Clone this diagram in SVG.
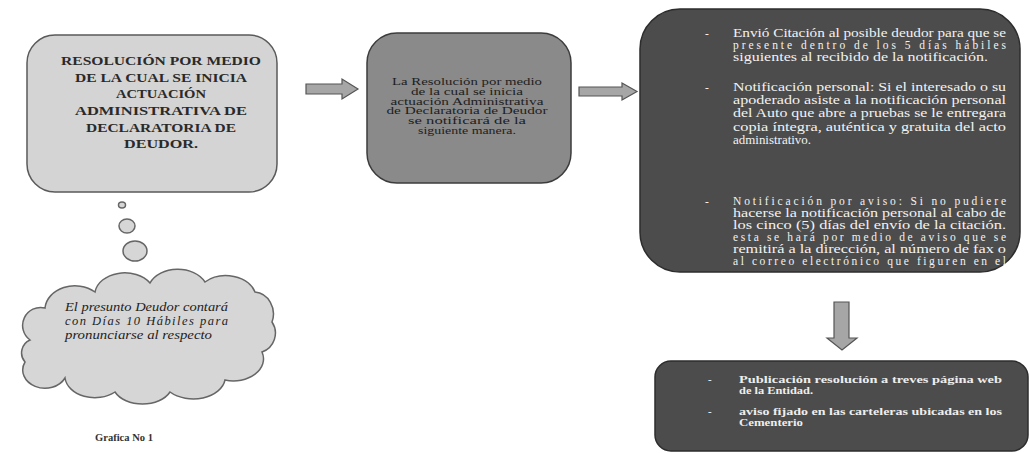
<svg xmlns="http://www.w3.org/2000/svg" width="1030" height="453" viewBox="0 0 1030 453">
<defs>
<style>
.b1{fill:#d4d4d4;stroke:#5a5a5a;stroke-width:1.5}
.b2{fill:#8a8a8a;stroke:#3c3c3c;stroke-width:1.5}
.b3{fill:#4c4c4c;stroke:#2c2c2c;stroke-width:1.5}
.arr{fill:#a6a6a6;stroke:#555;stroke-width:1.2}
.t1{font-family:"Liberation Serif",serif;font-weight:bold;font-size:13px;fill:#2a2a2a;text-anchor:middle}
.t2{font-family:"Liberation Serif",serif;font-size:10.5px;fill:#1e1e1e;text-anchor:middle}
.t3{font-family:"Liberation Serif",serif;font-size:11.5px;fill:#f2f2f2}
.t4{font-family:"Liberation Serif",serif;font-weight:bold;font-size:11px;fill:#eeeeee}
.tc{font-family:"Liberation Serif",serif;font-style:italic;font-size:12.5px;fill:#222}
.cap{font-family:"Liberation Serif",serif;font-weight:bold;font-size:10px;fill:#333}
.cl{fill:#d6d6d6;stroke:#666;stroke-width:1.5}
</style>
</defs>
<rect width="1030" height="453" fill="#ffffff"/>

<g id="connectors">
<path class="arr" d="M306,84 L342,84 L342,79 L358,89 L342,99 L342,94 L306,94 Z"/>
<path class="arr" d="M579,87 L622,87 L622,83 L637,91.5 L622,100 L622,96 L579,96 Z"/>
<path class="arr" d="M834,302 L849,302 L849,338 L857,338 L842,350 L827,338 L834,338 Z"/>
</g>

<g id="node-resolucion">
<rect class="b1" x="27" y="35" width="250" height="157" rx="28" ry="28"/>
<text class="t1" x="161" y="65" textLength="200" lengthAdjust="spacingAndGlyphs">RESOLUCIÓN POR MEDIO</text>
<text class="t1" x="161" y="82" textLength="172" lengthAdjust="spacingAndGlyphs">DE LA CUAL SE INICIA</text>
<text class="t1" x="161" y="98" textLength="90" lengthAdjust="spacingAndGlyphs">ACTUACIÓN</text>
<text class="t1" x="161" y="115" textLength="172" lengthAdjust="spacingAndGlyphs">ADMINISTRATIVA DE</text>
<text class="t1" x="161" y="132" textLength="150" lengthAdjust="spacingAndGlyphs">DECLARATORIA DE</text>
<text class="t1" x="161" y="148" textLength="74" lengthAdjust="spacingAndGlyphs">DEUDOR.</text>
</g>

<g id="node-notificacion">
<rect class="b2" x="367" y="33" width="204" height="150" rx="30" ry="30"/>
<text class="t2" x="467" y="85" textLength="150" lengthAdjust="spacingAndGlyphs">La Resolución por medio</text>
<text class="t2" x="467" y="95" textLength="112" lengthAdjust="spacingAndGlyphs">de la cual se inicia</text>
<text class="t2" x="467" y="104.5" textLength="153" lengthAdjust="spacingAndGlyphs">actuación Administrativa</text>
<text class="t2" x="467" y="114" textLength="161" lengthAdjust="spacingAndGlyphs">de Declaratoria de Deudor</text>
<text class="t2" x="467" y="124" textLength="118" lengthAdjust="spacingAndGlyphs">se notificará de la</text>
<text class="t2" x="467" y="133.5" textLength="98" lengthAdjust="spacingAndGlyphs">siguiente manera.</text>
</g>

<g id="node-formas">
<rect class="b3" x="640" y="9" width="380" height="263" rx="40" ry="40"/>
<text class="t3" x="705" y="37">-</text>
<text class="t3" x="733" y="37" textLength="273" lengthAdjust="spacingAndGlyphs">Envió Citación al posible deudor para que se</text>
<text class="t3" x="733" y="49" textLength="273" lengthAdjust="spacing">presente dentro de los 5 días hábiles</text>
<text class="t3" x="733" y="61" textLength="255" lengthAdjust="spacingAndGlyphs">siguientes al recibido de la notificación.</text>
<text class="t3" x="705" y="91">-</text>
<text class="t3" x="733" y="91" textLength="273" lengthAdjust="spacingAndGlyphs">Notificación personal: Si el interesado o su</text>
<text class="t3" x="733" y="104" textLength="273" lengthAdjust="spacingAndGlyphs">apoderado asiste a la notificación personal</text>
<text class="t3" x="733" y="117" textLength="273" lengthAdjust="spacingAndGlyphs">del Auto que abre a pruebas se le entregara</text>
<text class="t3" x="733" y="130.5" textLength="273" lengthAdjust="spacingAndGlyphs">copia íntegra, auténtica y gratuita del acto</text>
<text class="t3" x="733" y="144" textLength="78" lengthAdjust="spacingAndGlyphs">administrativo.</text>
<text class="t3" x="705" y="205">-</text>
<text class="t3" x="733" y="205" textLength="273" lengthAdjust="spacing">Notificación por aviso: Si no pudiere</text>
<text class="t3" x="733" y="217" textLength="273" lengthAdjust="spacingAndGlyphs">hacerse la notificación personal al cabo de</text>
<text class="t3" x="733" y="229" textLength="273" lengthAdjust="spacingAndGlyphs">los cinco (5) días del envío de la citación.</text>
<text class="t3" x="733" y="241" textLength="273" lengthAdjust="spacing">esta se hará por medio de aviso que se</text>
<text class="t3" x="733" y="253" textLength="273" lengthAdjust="spacingAndGlyphs">remitirá a la dirección, al número de fax o</text>
<text class="t3" x="733" y="265" textLength="273" lengthAdjust="spacing">al correo electrónico que figuren en el</text>
</g>

<g id="node-publicacion">
<rect class="b3" x="655" y="361" width="373" height="90" rx="16" ry="16"/>
<text class="t4" x="708" y="383">-</text>
<text class="t4" x="739" y="383" textLength="263" lengthAdjust="spacingAndGlyphs">Publicación resolución a treves página web</text>
<text class="t4" x="739" y="394" textLength="74" lengthAdjust="spacingAndGlyphs">de la Entidad.</text>
<text class="t4" x="708" y="415">-</text>
<text class="t4" x="739" y="415" textLength="263" lengthAdjust="spacingAndGlyphs">aviso fijado en las carteleras ubicadas en los</text>
<text class="t4" x="739" y="426" textLength="64" lengthAdjust="spacingAndGlyphs">Cementerio</text>
</g>

<g id="node-nube">
<ellipse class="cl" cx="122" cy="205" rx="3.5" ry="3"/>
<ellipse class="cl" cx="127" cy="226" rx="8" ry="7"/>
<ellipse class="cl" cx="135" cy="251" rx="12" ry="10"/>
<path class="cl" d="M30,340 A18,18 0 0 1 45,308 A30,24 0 0 1 95,292 A30,22 0 0 1 150,283 A30,22 0 0 1 205,282 A30,22 0 0 1 255,292 A20,22 0 0 1 272,322 A20,20 0 0 1 262,352 A30,22 0 0 1 225,380 A32,22 0 0 1 170,392 A30,20 0 0 1 115,392 A30,22 0 0 1 65,378 A22,18 0 0 1 25,362 A14,14 0 0 1 30,340 Z"/>
<text class="tc" x="65" y="311" textLength="163" lengthAdjust="spacingAndGlyphs">El presunto Deudor contará</text>
<text class="tc" x="65" y="325" textLength="163" lengthAdjust="spacing">con Días 10 Hábiles para</text>
<text class="tc" x="65" y="339" textLength="147" lengthAdjust="spacingAndGlyphs">pronunciarse al respecto</text>
</g>

<g id="caption">
<text class="cap" x="95" y="441" textLength="58" lengthAdjust="spacingAndGlyphs">Grafica No 1</text>
</g>
</svg>
